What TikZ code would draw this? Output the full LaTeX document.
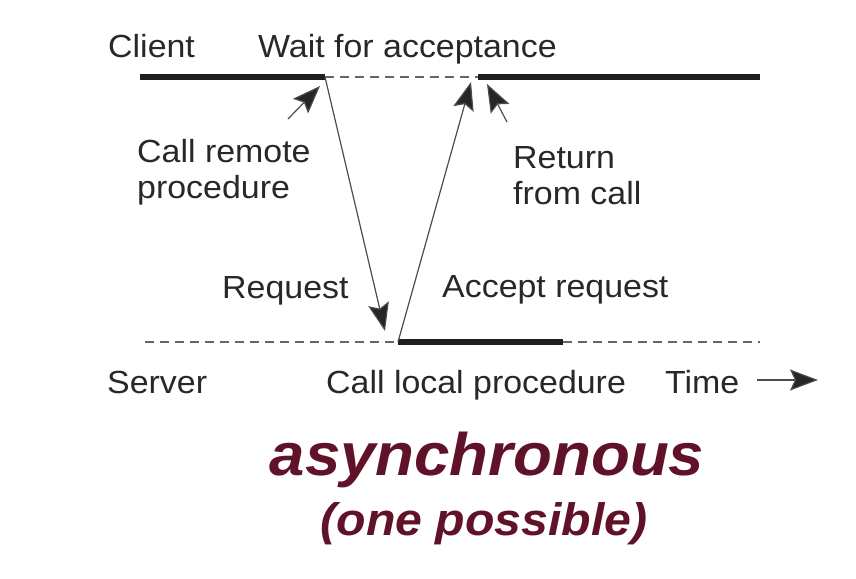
\documentclass[tikz,border=0pt]{standalone}
\usepackage{fontspec}
\setmainfont{Liberation Sans}[FakeStretch=1.06]
\usetikzlibrary{arrows.meta}
\definecolor{txt}{RGB}{40,40,40}
\definecolor{maroon}{RGB}{96,18,40}
\tikzset{
  lbl/.style={anchor=base west,inner sep=0pt,text=txt,font=\fontsize{32}{35}\selectfont},
  lbl2/.style={anchor=north west,inner sep=0pt,text=txt,align=left,font=\fontsize{32}{36}\selectfont},
  thick line/.style={line width=6.5pt,draw=black!88},
  dash line/.style={line width=1.8pt,draw=black!60,dash pattern=on 9pt off 6pt},
  msg/.style={line width=1.2pt,draw=black!70,-{Stealth[length=28pt,width=21pt,inset=5pt,fill=black!85]}},
  title/.style={anchor=base,inner sep=0pt,text=maroon}
}
\begin{document}
\begin{tikzpicture}[x=1pt,y=-1pt]
\useasboundingbox (0,0) rectangle (856,578);
% labels
\node[lbl] (client) at (108,57) {Client};
\node[lbl] (wait) at (258,57) {Wait for acceptance};
\node[lbl2] (callremote) at (137,139) {Call remote\\procedure};
\node[lbl2] (ret) at (513,146) {Return\\from call};
\node[lbl] (req) at (222,298) {Request};
\node[lbl] (acc) at (442,297) {Accept request};
\node[lbl] (server) at (107,393) {Server};
\node[lbl] (calllocal) at (326,393) {Call local procedure};
\node[lbl] (time) at (665,393) {Time};
% client timeline
\coordinate (c0) at (140,77);
\coordinate (c1) at (325,77);
\coordinate (c2) at (478,77);
\coordinate (c3) at (760,77);
\draw[thick line] (c0) -- (c1);
\draw[dash line] (c1) -- (c2);
\draw[thick line] (c2) -- (c3);
% server timeline
\coordinate (s0) at (145,342);
\coordinate (s1) at (398,342);
\coordinate (s2) at (563,342);
\coordinate (s3) at (760,342);
\draw[dash line] (s0) -- (s1);
\draw[thick line] (s1) -- (s2);
\draw[dash line] (s2) -- (s3);
% messages
\coordinate (reqend) at (385,331);
\coordinate (accend) at (471,82);
\draw[msg] (c1) -- (reqend);
\draw[msg] (s1) -- (accend);
% annotation arrows
\coordinate (crtail) at (288,119);
\coordinate (crtip) at (320,86);
\draw[msg] (crtail) -- (crtip);
\coordinate (rttail) at (507,122);
\coordinate (rttip) at (487,84);
\draw[msg] (rttail) -- (rttip);
% time arrow
\coordinate (t0) at (757,380);
\coordinate (t1) at (818,380);
\draw[msg] (t0) -- (t1);
% title
\node[title,font=\bfseries\itshape\fontsize{60}{66}\selectfont] (async) at (487,475) {asynchronous};
\node[title,font=\bfseries\itshape\fontsize{45.5}{50}\selectfont] (poss) at (484,535) {(one possible)};
\end{tikzpicture}
\end{document}
